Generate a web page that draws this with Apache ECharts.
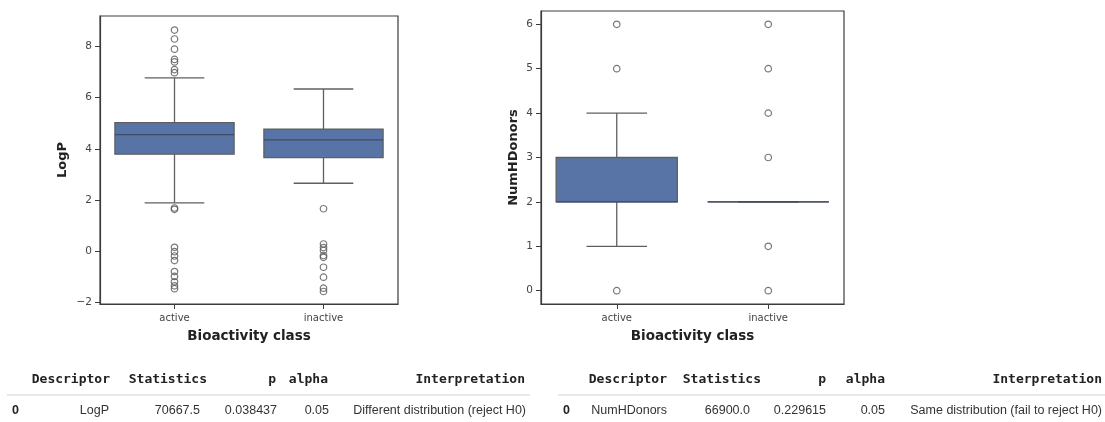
<!DOCTYPE html>
<html>
<head>
<meta charset="utf-8">
<script src="https://cdn.jsdelivr.net/npm/echarts@6/dist/echarts.min.js"></script>
<style>
  html, body { margin: 0; padding: 0; background: #fff; }
  #chart { width: 1105px; height: 422px; }
</style>
</head>
<body>
<div id="chart"></div>
<script>
// Categories on the x axis of both panels
const categories = ['active', 'inactive'];

// LogP: [lower whisker, Q1, median, Q3, upper whisker] per class
const logpBoxes = [
  [1.88, 3.79, 4.55, 5.02, 6.78],
  [2.65, 3.65, 4.35, 4.77, 6.34]
];
const logpOutliersActive = [8.65, 8.3, 7.9, 7.5, 7.4, 7.1, 6.98, 1.68, 1.63, 0.14, -0.03, -0.2, -0.38, -0.81, -1.0, -1.21, -1.37, -1.48];
const logpOutliersInactive = [1.65, 0.27, 0.13, 0.02, -0.18, -0.25, -0.64, -1.03, -1.46, -1.59];
const logpTicks = [-2, 0, 2, 4, 6, 8];

// NumHDonors: [lower whisker, Q1, median, Q3, upper whisker] per class
const donorBoxes = [
  [1, 2, 2, 3, 4],
  [2, 2, 2, 2, 2]
];
const donorOutliersActive = [0, 5, 6];
const donorOutliersInactive = [0, 1, 3, 4, 5, 6];
const donorTicks = [0, 1, 2, 3, 4, 5, 6];

// Test summary tables
const tableHeader = ['Descriptor', 'Statistics', 'p', 'alpha', 'Interpretation'];
const logpRow = ['0', 'LogP', '70667.5', '0.038437', '0.05', 'Different distribution (reject H0)'];
const donorRow = ['0', 'NumHDonors', '66900.0', '0.229615', '0.05', 'Same distribution (fail to reject H0)'];

const BOX_FILL = '#5874a6';
const LINE = '#5f5f5f';
const AXIS = '#3c3c3c';
const minus = v => String(v).replace('-', '\u2212');

function boxRender(params, api) {
  const c = api.value(0);
  const lo = api.coord([c, api.value(1)]);
  const q1 = api.coord([c, api.value(2)]);
  const md = api.coord([c, api.value(3)]);
  const q3 = api.coord([c, api.value(4)]);
  const hi = api.coord([c, api.value(5)]);
  const bw = api.size([1, 0])[0] * 0.8;
  const cx = lo[0];
  const cap = bw / 2;
  const ls = { stroke: LINE, lineWidth: 1.3 };
  return {
    type: 'group',
    children: [
      { type: 'line', shape: { x1: cx, y1: q1[1], x2: cx, y2: lo[1] }, style: ls },
      { type: 'line', shape: { x1: cx, y1: q3[1], x2: cx, y2: hi[1] }, style: ls },
      { type: 'line', shape: { x1: cx - cap / 2, y1: lo[1], x2: cx + cap / 2, y2: lo[1] }, style: ls },
      { type: 'line', shape: { x1: cx - cap / 2, y1: hi[1], x2: cx + cap / 2, y2: hi[1] }, style: ls },
      { type: 'rect', shape: { x: cx - bw / 2, y: q3[1], width: bw, height: q1[1] - q3[1] },
        style: { fill: BOX_FILL, stroke: LINE, lineWidth: 1.3 } },
      { type: 'line', shape: { x1: cx - bw / 2, y1: md[1], x2: cx + bw / 2, y2: md[1] },
        style: { stroke: '#3e4a66', lineWidth: 1.3 } }
    ]
  };
}

function boxData(boxes) {
  return boxes.map((b, i) => [i].concat(b));
}
function outlierData(active, inactive) {
  return active.map(v => [0, v]).concat(inactive.map(v => [1, v]));
}

function xAxisFor(gi) {
  return {
    type: 'category', gridIndex: gi, data: categories, boundaryGap: true,
    name: 'Bioactivity class', nameLocation: 'middle', nameGap: 25,
    nameTextStyle: { fontFamily: 'DejaVu Sans', fontWeight: 'bold', fontSize: 13.5, color: '#222' },
    axisLine: { show: true, onZero: false, lineStyle: { color: AXIS, width: 1.2 } },
    axisTick: { show: true, alignWithLabel: true, length: 5, lineStyle: { color: AXIS, width: 1 } },
    axisLabel: { fontFamily: 'DejaVu Sans', fontSize: 10, color: '#444', margin: 9 },
    splitLine: { show: false }
  };
}
function yAxisFor(gi, name, min, max, ticks, gap) {
  return {
    type: 'value', gridIndex: gi, min: min, max: max,
    name: name, nameLocation: 'middle', nameGap: gap, nameRotate: 90,
    nameTextStyle: { fontFamily: 'DejaVu Sans', fontWeight: 'bold', fontSize: 13, color: '#222' },
    axisLine: { show: true, onZero: false, lineStyle: { color: AXIS, width: 1.2 } },
    axisTick: { show: true, length: 5, customValues: ticks, lineStyle: { color: AXIS, width: 1 } },
    axisLabel: { fontFamily: 'DejaVu Sans', fontSize: 10.5, color: '#444', margin: 8,
      customValues: ticks, formatter: minus },
    splitLine: { show: false }
  };
}

// Table text elements
const headFont = 'bold 13px "DejaVu Sans Mono"';
const rowFont = '12.5px "Liberation Sans"';
function tableGraphics(x0, headRight, rowRight, row, lineX1, lineX2) {
  const els = [];
  tableHeader.forEach((h, i) => {
    els.push({ type: 'text', x: headRight[i], y: 380,
      style: { text: h, font: headFont, fill: '#222', align: 'right', verticalAlign: 'middle' } });
  });
  els.push({ type: 'text', x: x0, y: 411,
    style: { text: row[0], font: 'bold 12.5px "Liberation Sans"', fill: '#222', align: 'left', verticalAlign: 'middle' } });
  for (let i = 1; i < row.length; i++) {
    els.push({ type: 'text', x: rowRight[i - 1], y: 411,
      style: { text: row[i], font: rowFont, fill: '#333', align: 'right', verticalAlign: 'middle' } });
  }
  els.push({ type: 'line', shape: { x1: lineX1, y1: 395, x2: lineX2, y2: 395 },
    style: { stroke: '#e2e2e2', lineWidth: 1.5 } });
  return els;
}

const chart = echarts.init(document.getElementById('chart'));
chart.setOption({
  backgroundColor: '#fff',
  animation: false,
  grid: [
    { left: 100, top: 16, width: 298, height: 288, show: true, borderColor: AXIS, borderWidth: 1.2, backgroundColor: 'transparent' },
    { left: 541, top: 11, width: 303, height: 293, show: true, borderColor: AXIS, borderWidth: 1.2, backgroundColor: 'transparent' }
  ],
  xAxis: [xAxisFor(0), xAxisFor(1)],
  yAxis: [
    yAxisFor(0, 'LogP', -2.08, 9.2, logpTicks, 31),
    yAxisFor(1, 'NumHDonors', -0.3, 6.3, donorTicks, 21)
  ],
  series: [
    { type: 'custom', xAxisIndex: 0, yAxisIndex: 0, renderItem: boxRender,
      encode: { x: 0, y: [1, 2, 3, 4, 5] }, data: boxData(logpBoxes), z: 2 },
    { type: 'scatter', xAxisIndex: 0, yAxisIndex: 0, symbol: 'circle', symbolSize: 6.5,
      itemStyle: { color: 'rgba(255,255,255,0)', borderColor: '#555', borderWidth: 1.2 },
      data: outlierData(logpOutliersActive, logpOutliersInactive), z: 3 },
    { type: 'custom', xAxisIndex: 1, yAxisIndex: 1, renderItem: boxRender,
      encode: { x: 0, y: [1, 2, 3, 4, 5] }, data: boxData(donorBoxes), z: 2 },
    { type: 'scatter', xAxisIndex: 1, yAxisIndex: 1, symbol: 'circle', symbolSize: 6.5,
      itemStyle: { color: 'rgba(255,255,255,0)', borderColor: '#555', borderWidth: 1.2 },
      data: outlierData(donorOutliersActive, donorOutliersInactive), z: 3 }
  ],
  graphic: tableGraphics(12, [110, 207, 276, 328, 525], [109, 200, 277, 329, 526], logpRow, 7, 530)
    .concat(tableGraphics(563, [667, 761, 826, 885, 1102], [667, 750, 826, 885, 1102], donorRow, 558, 1105))
});
</script>
</body>
</html>
